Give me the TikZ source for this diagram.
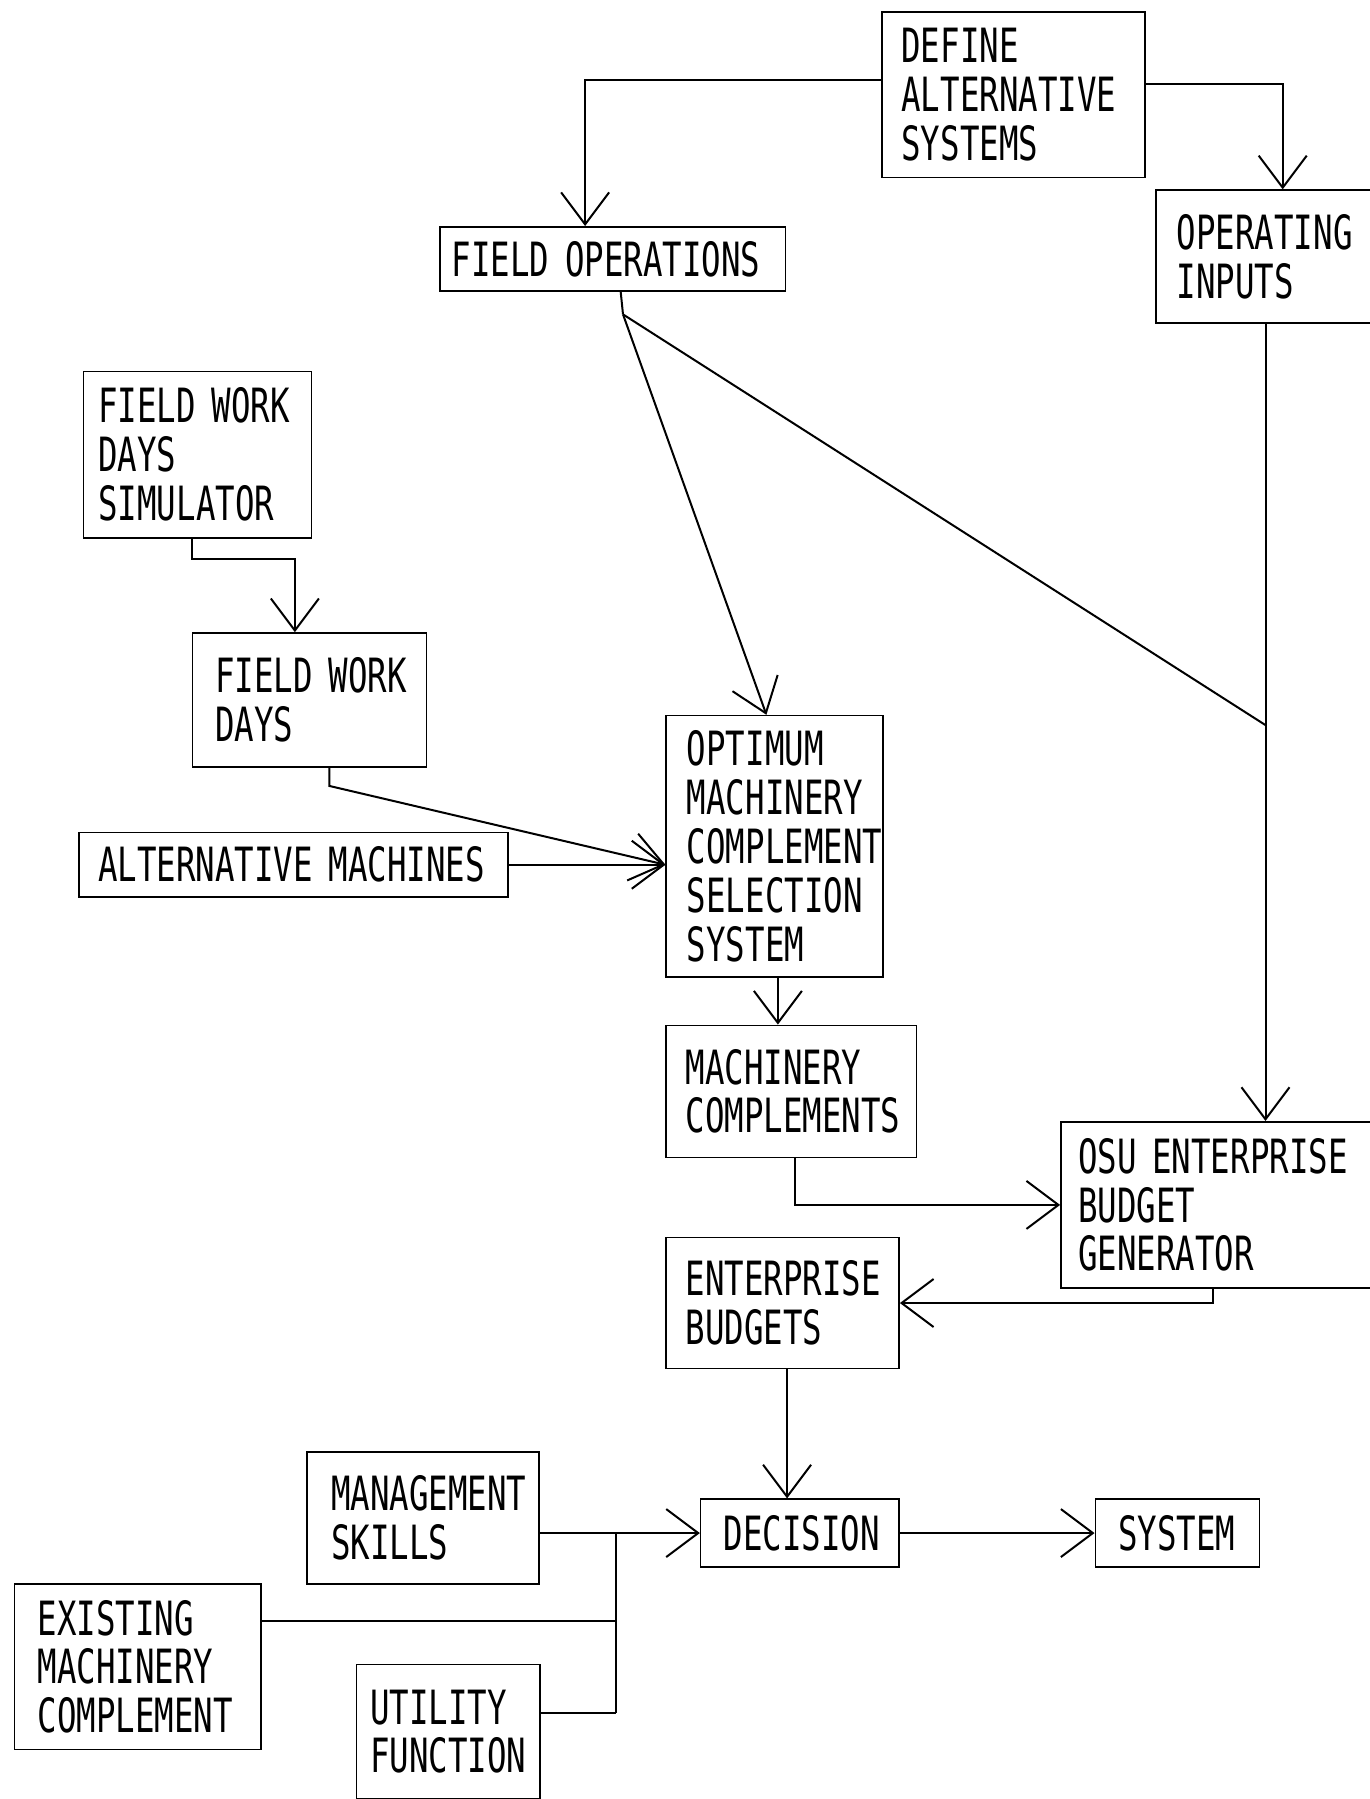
\documentclass[tikz,border=0pt]{standalone}
\usepackage{fontspec}
\newfontfamily\tw[FakeStretch=0.687]{DejaVu Sans Mono}
\usetikzlibrary{arrows.meta}
\begin{document}
\begin{tikzpicture}[x=1.1474pt,y=-1.1474pt,
  box/.style={draw, line width=1.6pt, anchor=north west, align=left,
    font={\tw\fontsize{47.2}{48.8}\selectfont}, inner ysep=0pt},
  conn/.style={line width=2pt},
  arr/.style={conn, -{Straight Barb[length=32pt,width=48pt,line width=2pt]}}]
\fill[white] (0,0) rectangle (1194,1568);
\useasboundingbox (0,0) rectangle (1194,1568);

\node[box, minimum width=262.8pt, minimum height=165.2pt, inner xsep=19.5pt, text width=223.8pt] (def) at (768,10) {DEFINE\\ALTERNATIVE\\SYSTEMS};
\node[box, minimum width=345.4pt, minimum height=64.3pt, inner xsep=11.5pt, text width=322.4pt] (fops) at (383,197) {FIELD~OPERATIONS};
\node[box, minimum width=238.7pt, minimum height=133.1pt, inner xsep=20.7pt, text width=197.3pt] (opin) at (1007,165) {OPERATING\\INPUTS};
\node[box, minimum width=228.3pt, minimum height=166.4pt, inner xsep=15pt, text width=198.3pt] (fwds) at (72,323) {FIELD~WORK\\DAYS\\SIMULATOR};
\node[box, minimum width=234.1pt, minimum height=134.2pt, inner xsep=23pt, text width=188.1pt] (fwd) at (167,551) {FIELD~WORK\\DAYS};
\node[box, minimum width=429.1pt, minimum height=64.3pt, inner xsep=19.5pt, text width=390.1pt] (altm) at (68,725) {ALTERNATIVE~MACHINES};
\node[box, minimum width=216.9pt, minimum height=261.6pt, inner xsep=20.7pt, text width=175.5pt] (opt) at (580,623) {OPTIMUM\\MACHINERY\\COMPLEMENT\\SELECTION\\SYSTEM};
\node[box, minimum width=250.1pt, minimum height=132pt, inner xsep=19.5pt, text width=211.1pt] (mcomp) at (580,893) {MACHINERY\\COMPLEMENTS};
\node[box, minimum width=333.9pt, minimum height=166.4pt, inner xsep=17.2pt, text width=299.5pt] (osu) at (924,977) {OSU~ENTERPRISE\\BUDGET\\GENERATOR};
\node[box, minimum width=232.9pt, minimum height=130.8pt, inner xsep=19.5pt, text width=193.9pt] (ebud) at (580,1078) {ENTERPRISE\\BUDGETS};
\node[box, minimum width=231.8pt, minimum height=132pt, inner xsep=24pt, text width=183.8pt] (mgmt) at (267,1265) {MANAGEMENT\\SKILLS};
\node[box, minimum width=198.5pt, minimum height=67.7pt, inner xsep=23pt, text width=152.5pt] (dec) at (610,1306) {DECISION};
\node[box, minimum width=164.1pt, minimum height=67.7pt, inner xsep=23pt, text width=118.1pt] (sys) at (954,1306) {SYSTEM};
\node[box, minimum width=246.7pt, minimum height=165.2pt, inner xsep=23pt, text width=200.7pt] (exist) at (12,1380) {EXISTING\\MACHINERY\\COMPLEMENT};
\node[box, minimum width=183.6pt, minimum height=134.2pt, inner xsep=13.8pt, text width=156pt] (util) at (310,1450) {UTILITY\\FUNCTION};

% connectors
\draw[arr] (def.west |- 0,70) -| (fops.north -| 510,0);
\draw[arr] (def.east |- 0,73) -| (opin.north -| 1118,0);
\coordinate (fsplit) at (543,274);
\coordinate (join) at (1103,632);
\draw[conn] (fops.south -| 541,0) -- (fsplit);
\draw[arr] (fsplit) -- (opt.north -| 668,0);
\draw[conn] (fsplit) -- (join);
\draw[arr] (opin.south -| 1103,0) -- (osu.north -| 1103,0);
\draw[arr] (fwds.south -| 167,0) -- (167,487) -| (fwd.north -| 257,0);
\draw[arr] (fwd.south -| 287,0) -- (287,685) -- (opt.west |- altm.east);
\draw[arr] (altm.east) -- (opt.west |- altm.east);
\draw[arr] (opt.south -| 678,0) -- (mcomp.north -| 678,0);
\draw[arr] (mcomp.south -| 693,0) |- (osu.west);
\draw[arr] (osu.south -| 1057,0) |- (ebud.east);
\draw[arr] (ebud.south -| 686,0) -- (dec.north -| 686,0);
\draw[arr] (mgmt.east |- dec.west) -- (dec.west);
\draw[arr] (dec.east) -- (sys.west);
\coordinate (jt) at (dec.west -| 537,0);
\coordinate (jb) at (537,1493);
\draw[conn] (jt) -- (jb);
\draw[conn] (exist.east |- 0,1413) -- (jt |- 0,1413);
\draw[conn] (util.east |- jb) -- (jb);
\end{tikzpicture}
\end{document}
